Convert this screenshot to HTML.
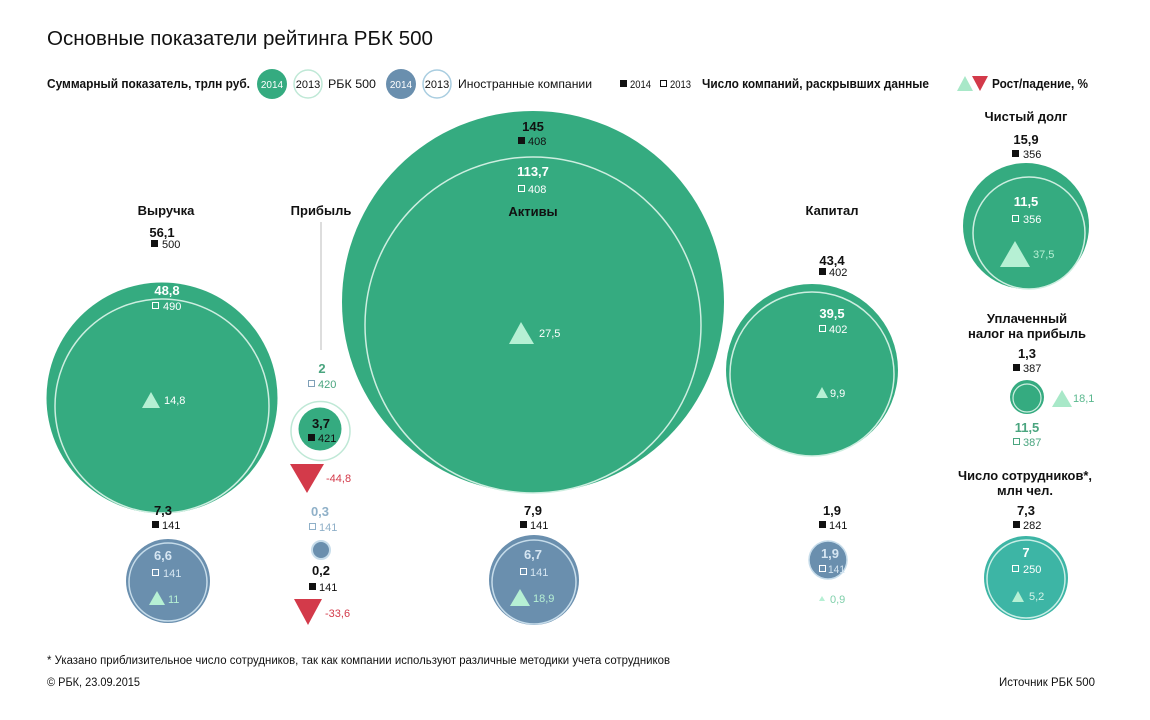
<!DOCTYPE html>
<html><head><meta charset="utf-8"><style>
html,body{margin:0;padding:0;background:#fff;}
svg{display:block;font-family:"Liberation Sans Narrow","Liberation Sans",sans-serif;}
.b{font-weight:bold;font-size:13px;fill:#111;}
.s{font-size:11px;fill:#111;}
.w{fill:#fff;}
.c{text-anchor:middle;}
</style></head><body>
<svg width="1150" height="720" viewBox="0 0 1150 720">
<text x="47" y="45" font-size="20" fill="#111" textLength="386" lengthAdjust="spacingAndGlyphs">Основные показатели рейтинга РБК 500</text>
<!-- legend -->
<text x="47" y="88" class="b" font-size="12" textLength="203" lengthAdjust="spacingAndGlyphs">Суммарный показатель, трлн руб.</text>
<circle cx="272" cy="84" r="15" fill="#35ab80"/><text x="272" y="88" class="c" font-size="10" fill="#fff">2014</text>
<circle cx="308" cy="84" r="14" fill="#fff" stroke="#bfe8d6" stroke-width="1.5"/><text x="308" y="88" class="c s" font-size="10">2013</text>
<text x="328" y="88" font-size="12" fill="#111" textLength="48" lengthAdjust="spacingAndGlyphs">РБК 500</text>
<circle cx="401" cy="84" r="15" fill="#6a8fae"/><text x="401" y="88" class="c" font-size="10" fill="#fff">2014</text>
<circle cx="437" cy="84" r="14" fill="#fff" stroke="#a9cde0" stroke-width="1.5"/><text x="437" y="88" class="c s" font-size="10">2013</text>
<text x="458" y="88" font-size="12" fill="#111" textLength="134" lengthAdjust="spacingAndGlyphs">Иностранные компании</text>
<rect x="620" y="80" width="7" height="7" fill="#111"/><text x="630" y="88" class="s" textLength="21" lengthAdjust="spacingAndGlyphs">2014</text>
<rect x="660.5" y="80.5" width="6" height="6" fill="none" stroke="#111"/><text x="670" y="88" class="s" textLength="21" lengthAdjust="spacingAndGlyphs">2013</text>
<text x="702" y="88" class="b" font-size="12" textLength="227" lengthAdjust="spacingAndGlyphs">Число компаний, раскрывших данные</text>
<polygon points="957,91 965,76 973,91" fill="#a8e8c8"/><polygon points="972,76 988,76 980,91" fill="#d33a4a"/>
<text x="992" y="88" class="b" font-size="12" textLength="96" lengthAdjust="spacingAndGlyphs">Рост/падение, %</text>

<!-- Assets -->
<circle cx="533" cy="302" r="191" fill="#35ab80"/>
<circle cx="533" cy="325" r="168" fill="none" stroke="#cdeee0" stroke-width="1.5"/>
<text x="533" y="131" class="b c">145</text>
<rect x="518" y="137" width="7" height="7" fill="#111"/><text x="528" y="145" class="s">408</text>
<text x="533" y="176" class="b c w">113,7</text>
<rect x="518.5" y="185.5" width="6" height="6" fill="none" stroke="#fff"/><text x="528" y="193" class="s w">408</text>
<text x="533" y="216" class="b c">Активы</text>
<polygon points="509,344 521,322 534,344" fill="#b6f0d4"/><text x="539" y="337" class="s w" font-size="12">27,5</text>

<!-- Revenue -->
<circle cx="162" cy="398" r="115.5" fill="#35ab80"/>
<circle cx="162" cy="406" r="107" fill="none" stroke="#cdeee0" stroke-width="1.5"/>
<text x="166" y="215" class="b c">Выручка</text>
<text x="162" y="237" class="b c">56,1</text>
<rect x="151" y="240" width="7" height="7" fill="#111"/><text x="162" y="248" class="s">500</text>
<text x="167" y="295" class="b c w">48,8</text>
<rect x="152.5" y="302.5" width="6" height="6" fill="none" stroke="#fff"/><text x="163" y="310" class="s w">490</text>
<polygon points="142,408 151,392 160,408" fill="#b6f0d4"/><text x="164" y="404" class="s w">14,8</text>

<!-- Profit -->
<line x1="321" y1="222" x2="321" y2="350" stroke="#bbb" stroke-width="1"/>
<text x="321" y="215" class="b c">Прибыль</text>
<text x="322" y="373" class="b c" style="fill:#4aa57f">2</text>
<rect x="308.5" y="380.5" width="6" height="6" fill="none" stroke="#7fa0b8"/><text x="318" y="388" class="s" style="fill:#4aa57f">420</text>
<circle cx="320.5" cy="431" r="29.5" fill="none" stroke="#bfe8d6" stroke-width="1.5"/>
<circle cx="320" cy="429" r="21.5" fill="#35ab80"/>
<text x="321" y="428" class="b c">3,7</text>
<rect x="308" y="434" width="7" height="7" fill="#111"/><text x="318" y="442" class="s">421</text>
<polygon points="290,464 324,464 307,493" fill="#d33a4a"/><text x="326" y="482" class="s" font-size="12" style="fill:#d33a4a">-44,8</text>
<text x="320" y="516" class="b c" style="fill:#8fb0c8">0,3</text>
<rect x="309.5" y="523.5" width="6" height="6" fill="none" stroke="#8fb0c8"/><text x="319" y="531" class="s" style="fill:#8fb0c8">141</text>
<circle cx="321" cy="550" r="9" fill="#6a8fae" stroke="#c6dcea" stroke-width="2"/>
<text x="321" y="575" class="b c">0,2</text>
<rect x="309" y="583" width="7" height="7" fill="#111"/><text x="319" y="591" class="s">141</text>
<polygon points="294,599 322,599 308,625" fill="#d33a4a"/><text x="325" y="617" class="s" font-size="12" style="fill:#d33a4a">-33,6</text>

<!-- Capital -->
<circle cx="812" cy="370" r="86" fill="#35ab80"/>
<circle cx="812" cy="374" r="82" fill="none" stroke="#cdeee0" stroke-width="1.5"/>
<text x="832" y="215" class="b c">Капитал</text>
<text x="832" y="265" class="b c">43,4</text>
<rect x="819" y="268" width="7" height="7" fill="#111"/><text x="829" y="276" class="s">402</text>
<text x="832" y="318" class="b c w">39,5</text>
<rect x="819.5" y="325.5" width="6" height="6" fill="none" stroke="#fff"/><text x="829" y="333" class="s w">402</text>
<polygon points="816,398 822,387 828,398" fill="#b6f0d4"/><text x="830" y="397" class="s w">9,9</text>

<!-- Debt -->
<circle cx="1026" cy="226" r="63" fill="#35ab80"/>
<circle cx="1029" cy="233" r="56" fill="none" stroke="#cdeee0" stroke-width="1.5"/>
<text x="1026" y="121" class="b c">Чистый долг</text>
<text x="1026" y="144" class="b c">15,9</text>
<rect x="1012" y="150" width="7" height="7" fill="#111"/><text x="1023" y="158" class="s">356</text>
<text x="1026" y="206" class="b c w">11,5</text>
<rect x="1012.5" y="215.5" width="6" height="6" fill="none" stroke="#fff"/><text x="1023" y="223" class="s w">356</text>
<polygon points="1000,267 1015,241 1030,267" fill="#b6f0d4"/><text x="1033" y="258" class="s" font-size="12" style="fill:#b6f0d4">37,5</text>

<!-- Tax -->
<text x="1027" y="323" class="b c">Уплаченный</text>
<text x="1027" y="338" class="b c" textLength="118" lengthAdjust="spacingAndGlyphs">налог на прибыль</text>
<text x="1027" y="358" class="b c">1,3</text>
<rect x="1013" y="364" width="7" height="7" fill="#111"/><text x="1023" y="372" class="s">387</text>
<circle cx="1027" cy="397" r="17" fill="#35ab80"/>
<circle cx="1027" cy="398" r="14" fill="none" stroke="#cdeee0" stroke-width="1.2"/>
<polygon points="1052,407 1062,390 1072,407" fill="#a8e8c8"/><text x="1073" y="402" class="s" style="fill:#5ab88e">18,1</text>
<text x="1027" y="432" class="b c" style="fill:#4aa57f">11,5</text>
<rect x="1013.5" y="438.5" width="6" height="6" fill="none" stroke="#4aa57f"/><text x="1023" y="446" class="s" style="fill:#4aa57f">387</text>

<!-- Employees -->
<text x="1025" y="480" class="b c" textLength="134" lengthAdjust="spacingAndGlyphs">Число сотрудников*,</text>
<text x="1025" y="495" class="b c">млн чел.</text>
<text x="1026" y="515" class="b c">7,3</text>
<rect x="1013" y="521" width="7" height="7" fill="#111"/><text x="1023" y="529" class="s">282</text>
<circle cx="1026" cy="578" r="42" fill="#3db5a5"/>
<circle cx="1026" cy="579" r="39" fill="none" stroke="#c9eee6" stroke-width="1.5"/>
<text x="1026" y="557" class="b c w">7</text>
<rect x="1012.5" y="565.5" width="6" height="6" fill="none" stroke="#fff"/><text x="1023" y="573" class="s w">250</text>
<polygon points="1012,602 1018,591 1024,602" fill="#b6f0d4"/><text x="1029" y="600" class="s" style="fill:#d6f5ea">5,2</text>

<!-- Foreign revenue -->
<text x="163" y="515" class="b c">7,3</text>
<rect x="152" y="521" width="7" height="7" fill="#111"/><text x="162" y="529" class="s">141</text>
<circle cx="168" cy="581" r="42" fill="#6a8fae"/>
<circle cx="168" cy="582" r="39" fill="none" stroke="#c6dcea" stroke-width="1.5"/>
<text x="163" y="560" class="b c" style="fill:#d6e6f2">6,6</text>
<rect x="152.5" y="569.5" width="6" height="6" fill="none" stroke="#fff"/><text x="163" y="577" class="s" style="fill:#d6e6f2">141</text>
<polygon points="149,605 157,591 165,605" fill="#b6f0d4"/><text x="168" y="603" class="s" style="fill:#b6f0d4">11</text>

<!-- Foreign assets -->
<text x="533" y="515" class="b c">7,9</text>
<rect x="520" y="521" width="7" height="7" fill="#111"/><text x="530" y="529" class="s">141</text>
<circle cx="534" cy="580" r="45" fill="#6a8fae"/>
<circle cx="534" cy="582" r="42" fill="none" stroke="#c6dcea" stroke-width="1.5"/>
<text x="533" y="559" class="b c" style="fill:#d6e6f2">6,7</text>
<rect x="520.5" y="568.5" width="6" height="6" fill="none" stroke="#fff"/><text x="530" y="576" class="s" style="fill:#d6e6f2">141</text>
<polygon points="510,606 520,589 530,606" fill="#b6f0d4"/><text x="533" y="602" class="s" font-size="12" style="fill:#b6f0d4">18,9</text>

<!-- Foreign capital -->
<text x="832" y="515" class="b c">1,9</text>
<rect x="819" y="521" width="7" height="7" fill="#111"/><text x="829" y="529" class="s">141</text>
<circle cx="828" cy="560" r="19" fill="#6a8fae" stroke="#c6dcea" stroke-width="1.5"/>
<text x="830" y="558" class="b c" style="fill:#d6e6f2">1,9</text>
<rect x="819.5" y="565.5" width="6" height="6" fill="none" stroke="#fff"/><text x="828" y="573" class="s" style="fill:#d6e6f2" textLength="17" lengthAdjust="spacingAndGlyphs">141</text>
<polygon points="819,601 822,596 825,601" fill="#b6f0d4"/><text x="830" y="603" class="s" style="fill:#7fcfaa">0,9</text>

<!-- footer -->
<text x="47" y="664" font-size="11.5" fill="#111" textLength="623" lengthAdjust="spacingAndGlyphs">* Указано приблизительное число сотрудников, так как компании используют различные методики учета сотрудников</text>
<text x="47" y="686" font-size="11.5" fill="#111" textLength="93" lengthAdjust="spacingAndGlyphs">© РБК, 23.09.2015</text>
<text x="1095" y="686" font-size="11.5" fill="#111" text-anchor="end" textLength="96" lengthAdjust="spacingAndGlyphs">Источник РБК 500</text>
</svg>
</body></html>
